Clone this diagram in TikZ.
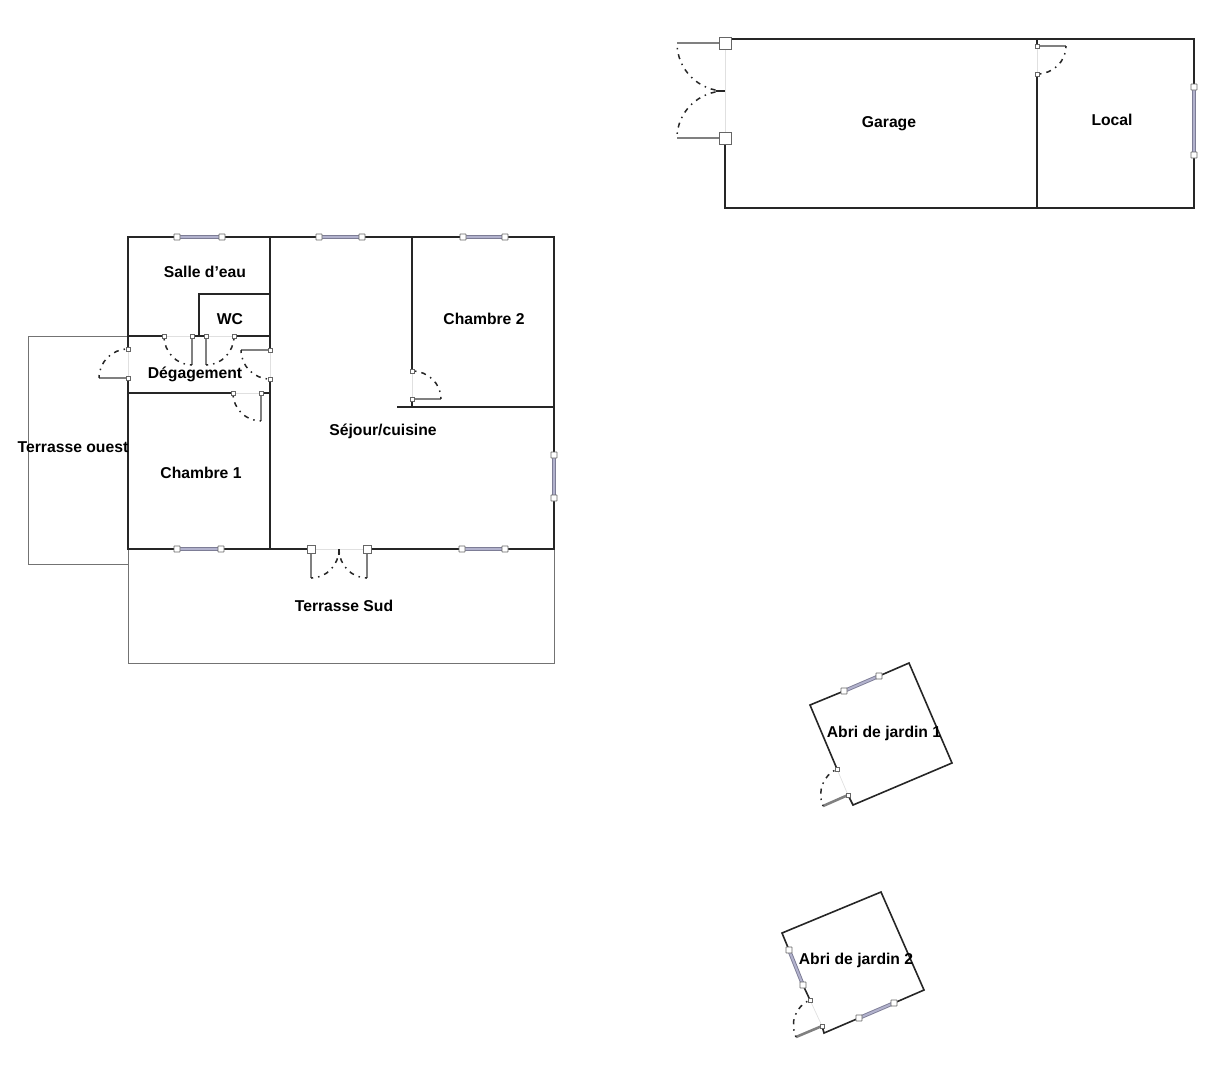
\documentclass[tikz,border=0pt]{standalone}
\usepackage{fontspec}
\setmainfont{Liberation Sans}
\usetikzlibrary{calc}
\definecolor{panecol}{RGB}{125,125,150}
\definecolor{glasscol}{RGB}{178,178,205}
\tikzset{
    wall/.style={line width=1.6pt,black!85,line cap=rect},
    terrace/.style={line width=0.8pt,black!55},
    opening/.style={line width=0.7pt,black!12},
    leaf/.style={line width=2.6pt,black!50},
    swing/.style={line width=1.5pt,black!85,dash pattern=on 5pt off 5pt on 1.5pt off 5pt,dash phase=7pt},
    jamb/.style={draw=black!60,fill=white,line width=0.7pt,inner sep=0pt,minimum size=#1},
    jamb/.default=6pt,
    pane/.style={line width=3.8pt,panecol},
    paneglass/.style={line width=2pt,glasscol},
    room/.style={font=\fontsize{15.7}{18}\selectfont\bfseries,inner sep=0pt}
}
% quarter circle of a door: hinge, start, end
\newcommand{\doorswing}[3]{\draw[swing] (#2) .. controls ($(#2)+0.552*(#3)-0.552*(#1)$) and ($(#3)+0.552*(#2)-0.552*(#1)$) .. (#3);}
% window between two jambs: name, first, second
\newcommand{\windowpair}[3]{
    \draw[pane] (#2) -- (#3);
    \draw[paneglass] (#2) -- (#3);
    \node[jamb,rounded corners=0.3pt] (#1a) at (#2) {};
    \node[jamb,rounded corners=0.3pt] (#1b) at (#3) {};
}
% door: name, hinge, free jamb, tip of leaf, jamb size
\newcommand{\doorleaf}[5]{
    \draw[opening] (#2) -- (#3);
    \draw[leaf] (#2) -- (#4);
    \doorswing{#2}{#3}{#4}
    \node[jamb=#5] (#1a) at (#2) {};
    \node[jamb=#5] (#1b) at (#3) {};
}
\begin{document}
\begin{tikzpicture}[x=1pt,y=-1pt]
    \useasboundingbox (0,0) rectangle (1225,1080);
    % terraces
    \draw[terrace] (128,336) -- (28,336) -- (28,564) -- (128,564);
    \draw[terrace] (128,549) -- (128,663) -- (554,663) -- (554,549);
    % house walls
    \draw[wall] (177,237) -- (128,237) -- (128,349);
    \draw[wall] (222,237) -- (319,237);
    \draw[wall] (362,237) -- (463,237);
    \draw[wall] (505,237) -- (554,237) -- (554,455);
    \draw[wall] (554,498) -- (554,549) -- (505,549);
    \draw[wall] (462,549) -- (367,549);
    \draw[wall] (311,549) -- (221,549);
    \draw[wall] (177,549) -- (128,549) -- (128,378);
    \draw[wall] (270,237) -- (270,350);
    \draw[wall] (270,379) -- (270,549);
    \draw[wall] (128,336) -- (164,336);
    \draw[wall] (192,336) -- (206,336);
    \draw[wall] (234,336) -- (270,336);
    \draw[wall] (128,393) -- (233,393);
    \draw[wall] (261,393) -- (270,393);
    \draw[wall] (199,336) -- (199,294) -- (270,294);
    \draw[wall] (412,237) -- (412,371);
    \draw[wall] (412,399) -- (412,407);
    \draw[wall] (398,407) -- (554,407);
    % house windows
    \windowpair{wa}{177,237}{222,237}
    \windowpair{wb}{319,237}{362,237}
    \windowpair{wc}{463,237}{505,237}
    \windowpair{wd}{554,455}{554,498}
    \windowpair{we}{177,549}{221,549}
    \windowpair{wf}{462,549}{505,549}
    % house doors
    \doorleaf{da}{128,378}{128,349}{99,378}{4pt}
    \doorleaf{db}{192,336}{164,336}{192,365}{4pt}
    \doorleaf{dc}{206,336}{234,336}{206,365}{4pt}
    \doorleaf{dd}{270,350}{270,379}{241,350}{4pt}
    \doorleaf{de}{261,393}{233,393}{261,421}{4pt}
    \doorleaf{df}{412,399}{412,371}{441,399}{4pt}
    \doorleaf{dg}{311,549}{339,549}{311,578}{0pt}
    \doorleaf{dh}{367,549}{339,549}{367,578}{0pt}
    \node[jamb=8pt] (dgj) at (311,549) {};
    \node[jamb=8pt] (dhj) at (367,549) {};
    \draw[swing,dash pattern=on 6pt off 20pt,dash phase=0pt] (339,549) -- (339,556);
    % garage
    \draw[wall] (725,39) -- (1194,39) -- (1194,87);
    \draw[wall] (1194,155) -- (1194,208) -- (725,208) -- (725,138);
    \draw[wall] (1037,39) -- (1037,46);
    \draw[wall] (1037,74) -- (1037,208);
    \windowpair{wg}{1194,87}{1194,155}
    \doorleaf{di}{725,43}{725,91}{677,43}{0pt}
    \doorleaf{dj}{725,138}{725,91}{677,138}{0pt}
    \node[jamb=12pt] (dij) at (725,43) {};
    \node[jamb=12pt] (djj) at (725,138) {};
    \draw[swing,dash pattern=on 9pt off 20pt,dash phase=0pt] (716,91) -- (725,91);
    \doorleaf{dk}{1037,46}{1037,74}{1066,46}{4pt}
    % garden shed 1
    \draw[wall] (844,691) -- (810,705) -- (837,769);
    \draw[wall] (879,676) -- (909,663) -- (952,763) -- (853,805) -- (848,795);
    \windowpair{wh}{844,691}{879,676}
    \doorleaf{dl}{848,795}{837,769}{823,806}{4pt}
    % garden shed 2
    \draw[wall] (789,950) -- (782,933) -- (881,892) -- (924,990) -- (894,1003);
    \draw[wall] (859,1018) -- (824,1033) -- (822,1026);
    \draw[wall] (803,985) -- (810,1000);
    \windowpair{wi}{789,950}{803,985}
    \windowpair{wj}{859,1018}{894,1003}
    \doorleaf{dm}{822,1026}{810,1000}{796,1037}{4pt}
    % room names
    \node[room] (garage) at (889,124) {Garage};
    \node[room] (local) at (1112,120) {Local};
    \node[room] (salle) at (205,272) {Salle d\symbol{39}eau};
    \node[room] (wc) at (230,319) {WC};
    \node[room] (chambreb) at (484,319) {Chambre 2};
    \node[room] (degagement) at (195,374) {Dégagement};
    \node[room] (sejour) at (383,431) {Séjour/cuisine};
    \node[room] (ouest) at (73,447) {Terrasse ouest};
    \node[room] (chambrea) at (201,473) {Chambre 1};
    \node[room] (sud) at (344,606) {Terrasse Sud};
    \node[room] (abria) at (884,733) {Abri de jardin 1};
    \node[room] (abrib) at (856,960) {Abri de jardin 2};
\end{tikzpicture}
\end{document}
